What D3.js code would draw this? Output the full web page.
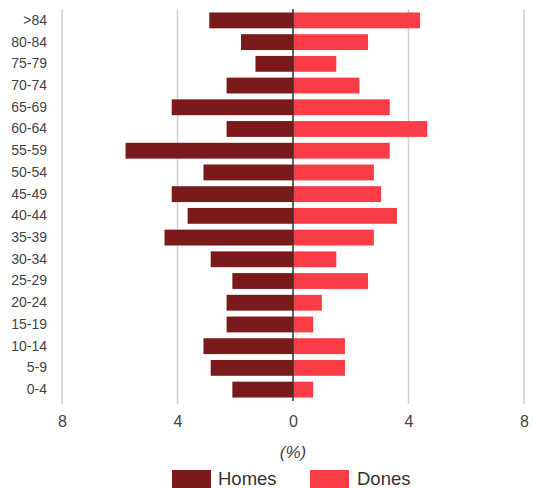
<!DOCTYPE html>
<html><head><meta charset="utf-8">
<script src="https://cdn.jsdelivr.net/npm/d3@7"></script>
<style>body{margin:0;background:#fff}svg{display:block}text{font-family:"Liberation Sans",Arial,sans-serif}</style>
</head><body><svg id="c" width="534" height="488"></svg>
<script>
const categories = [">84","80-84","75-79","70-74","65-69","60-64","55-59","50-54","45-49","40-44","35-39","30-34","25-29","20-24","15-19","10-14","5-9","0-4"];
const homes = [2.9,1.8,1.3,2.3,4.2,2.3,5.8,3.1,4.2,3.65,4.45,2.85,2.1,2.3,2.3,3.1,2.85,2.1];
const dones = [4.4,2.6,1.5,2.3,3.35,4.65,3.35,2.8,3.05,3.6,2.8,1.5,2.6,1.0,0.7,1.8,1.8,0.7];
const tickValues = [-8,-4,0,4,8];
const seriesNames = ["Homes","Dones"];
const colors = ["#7b1a1a","#fa3c46"];

const svg = d3.select("#c");
const x = d3.scaleLinear().domain([-8,8]).range([62,524]);
const y = d3.scaleBand().domain(categories).range([9,401]).paddingInner(0.27).paddingOuter(0.16);

// gridlines
svg.append("g").selectAll("line").data(tickValues.filter(d=>d!==0)).join("line")
  .attr("x1",d=>x(d)).attr("x2",d=>x(d)).attr("y1",9).attr("y2",404)
  .attr("stroke","#d0d0d0").attr("stroke-width",1.5);

// bars
svg.append("g").selectAll("rect").data(categories).join("rect")
  .attr("x",(d,i)=>x(-homes[i])).attr("width",(d,i)=>x(0)-x(-homes[i]))
  .attr("y",d=>y(d)).attr("height",y.bandwidth()).attr("fill",colors[0]);
svg.append("g").selectAll("rect").data(categories).join("rect")
  .attr("x",x(0)).attr("width",(d,i)=>x(dones[i])-x(0))
  .attr("y",d=>y(d)).attr("height",y.bandwidth()).attr("fill",colors[1]);

// zero line
svg.append("line").attr("x1",x(0)).attr("x2",x(0)).attr("y1",9).attr("y2",401)
  .attr("stroke","#333").attr("stroke-width",1.5);

// y axis labels
const yAxis = d3.axisLeft(y).tickSize(0).tickPadding(0);
const gy = svg.append("g").attr("transform","translate(47,0)").call(yAxis);
gy.select(".domain").remove();
gy.selectAll("text").attr("font-size",14).attr("fill","#444").style("font-family",'"Liberation Sans",Arial,sans-serif');

// x axis labels
const xAxis = d3.axisBottom(x).tickValues(tickValues).tickFormat(d=>Math.abs(d)).tickSize(0).tickPadding(0);
const gx = svg.append("g").attr("transform","translate(0,421)").call(xAxis);
gx.select(".domain").remove();
gx.selectAll("text").attr("y",0).attr("font-size",16).attr("fill","#444").attr("dy","0.36em").style("font-family",'"Liberation Sans",Arial,sans-serif');

// axis title
svg.append("text").attr("x",x(0)).attr("y",458).attr("text-anchor","middle")
  .attr("font-size",17).attr("font-style","italic").attr("fill","#444").text("(%)");

// legend
const legend = [{x:172,tx:218},{x:310,tx:357}];
seriesNames.forEach((n,i)=>{
  svg.append("rect").attr("x",legend[i].x).attr("y",470).attr("width",39).attr("height",19).attr("fill",colors[i]);
  svg.append("text").attr("x",legend[i].tx).attr("y",485).attr("font-size",18.5).attr("fill","#333").text(n);
});
</script></body></html>
